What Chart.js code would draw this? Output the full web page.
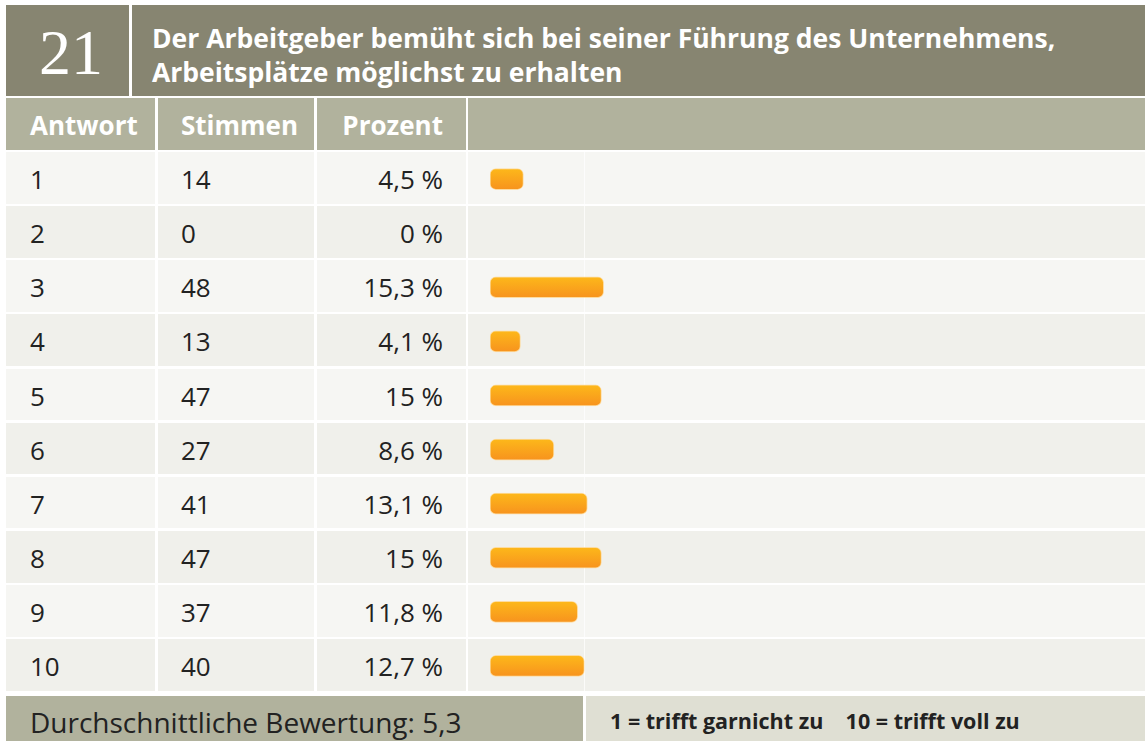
<!DOCTYPE html>
<html lang="de">
<head>
<meta charset="utf-8">
<title>Frage 21</title>
<script src="https://cdn.jsdelivr.net/npm/chart.js@4/dist/chart.umd.min.js"></script>
<style>
  html, body { margin: 0; padding: 0; background: #fff; }
  body { width: 1145px; height: 741px; position: relative; overflow: hidden; font-family: "Open Sans", Lato, sans-serif; color: #222; }
  .box { position: absolute; box-sizing: border-box; white-space: nowrap; }
  .num { left: 6px; top: 5px; width: 123px; height: 91px; background: #878571; color: #fff; padding-left: 7px;
         font-family: "Liberation Serif", "DejaVu Serif", serif; font-size: 64px; line-height: 96px; text-align: center; }
  .title { left: 132px; top: 5px; width: 1013px; height: 91px; background: #878571; color: #fff;
           font-weight: bold; font-size: 26.5px; line-height: 34px; padding: 16px 0 0 20px; }
  .head { top: 98px; height: 52px; background: #b1b29d; color: #fff; font-weight: bold; font-size: 26px; line-height: 54px; }
  .cell { font-size: 26px; line-height: 54px; }
  .foot-l { left: 6px; top: 696px; width: 577px; height: 50px; background: #b1b29d; font-size: 28px; line-height: 52px; padding-left: 24px; }
  .foot-r { left: 586px; top: 696px; width: 559px; height: 50px; background: #dfdfd3; font-weight: bold; font-size: 21.5px; line-height: 50px; padding-left: 24px; }
  #chartWrap { position: absolute; left: 468px; top: 152px; width: 677px; height: 541px; }
</style>
</head>
<body>
<div class="box num">21</div>
<div class="box title">Der Arbeitgeber bemüht sich bei seiner Führung des Unternehmens,<br>Arbeitsplätze möglichst zu erhalten</div>
<div id="table"></div>
<div id="chartWrap"><canvas id="barChart"></canvas></div>
<div class="box foot-l">Durchschnittliche Bewertung: 5,3</div>
<div class="box foot-r">1 = trifft garnicht zu&nbsp;&nbsp;&nbsp; 10 = trifft voll zu</div>

<script>
const answers = ['1', '2', '3', '4', '5', '6', '7', '8', '9', '10'];
const votes = [14, 0, 48, 13, 47, 27, 41, 47, 37, 40];
const percents = [4.5, 0, 15.3, 4.1, 15, 8.6, 13.1, 15, 11.8, 12.7];
const headers = ['Antwort', 'Stimmen', 'Prozent'];

// column edges: antwort, stimmen, prozent, bars
const cols = [[6, 155], [158, 314], [317, 466], [468, 1145]];
const rowTop = 152, rowPitch = 54.15, rowH = 51.5;

const table = document.getElementById('table');
function addBox(left, top, width, height, bg, html, extra) {
  const d = document.createElement('div');
  d.className = 'box ' + (extra || '');
  d.style.left = left + 'px';
  d.style.top = top + 'px';
  d.style.width = width + 'px';
  d.style.height = height + 'px';
  d.style.background = bg;
  if (html !== undefined) d.innerHTML = html;
  table.appendChild(d);
  return d;
}

// header row
cols.forEach((c, i) => {
  const d = addBox(c[0], 98, c[1] - c[0], 52, '#b1b29d', headers[i] || '', 'head');
  if (i === 0) d.style.paddingLeft = '24px';
  if (i === 1) d.style.paddingLeft = '23px';
  if (i === 2) { d.style.textAlign = 'right'; d.style.paddingRight = '23px'; }
});

const fmt = v => String(v).replace('.', ',') + ' %';

answers.forEach((a, r) => {
  const top = rowTop + r * rowPitch;
  const bg = r % 2 === 0 ? '#f6f6f3' : '#f0f0eb';
  const texts = [a, String(votes[r]), fmt(percents[r]), ''];
  cols.forEach((c, i) => {
    const d = addBox(c[0], top, c[1] - c[0], rowH, bg, texts[i], 'cell');
    if (i === 0) d.style.paddingLeft = '24px';
    if (i === 1) d.style.paddingLeft = '23px';
    if (i === 2) { d.style.textAlign = 'right'; d.style.paddingRight = '23px'; }
  });
  // faint divider inside the bar column
  addBox(584, top, 1, rowH, 'rgba(255,255,255,0.7)');
});

function barGradient(context) {
  const chart = context.chart;
  const y = chart.scales.y;
  const yc = y ? y.getPixelForValue(context.dataIndex) : NaN;
  if (!isFinite(yc)) return '#f9a51c';
  const g = chart.ctx.createLinearGradient(0, yc - 11, 0, yc + 11);
  g.addColorStop(0, '#fdb91a');
  g.addColorStop(1, '#f7921e');
  return g;
}

new Chart(document.getElementById('barChart'), {
  type: 'bar',
  data: {
    labels: answers,
    datasets: [{
      data: percents,
      backgroundColor: barGradient,
      borderColor: 'rgba(255,214,140,0.8)',
      borderWidth: 1,
      borderSkipped: false,
      borderRadius: 6,
      barThickness: 21
    }]
  },
  options: {
    indexAxis: 'y',
    responsive: true,
    maintainAspectRatio: false,
    animation: false,
    layout: { padding: { left: 22, right: 10, top: 0, bottom: 0 } },
    plugins: { legend: { display: false }, tooltip: { enabled: false } },
    scales: {
      x: { display: false, min: 0, max: 86.8 },
      y: { display: false, offset: true }
    }
  }
});
</script>
</body>
</html>
